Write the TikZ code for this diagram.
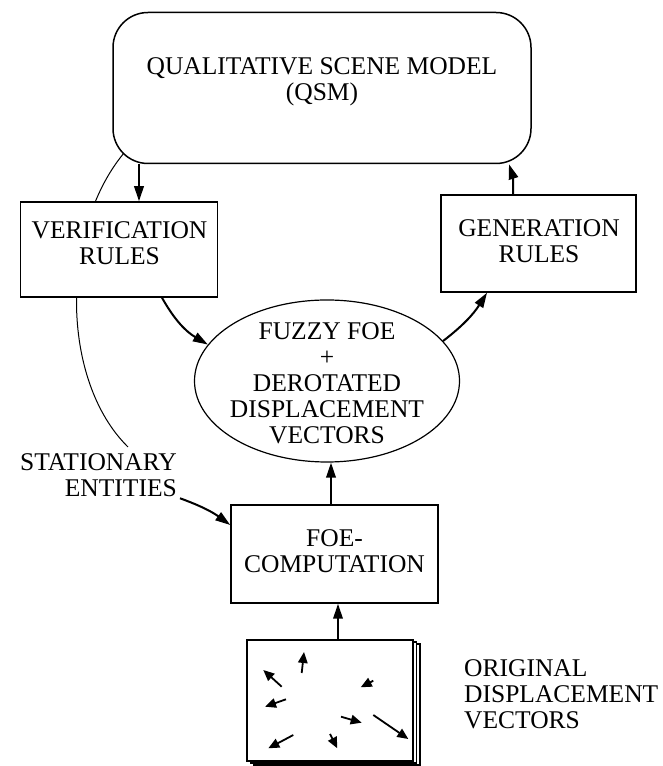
\documentclass[tikz,border=0pt]{standalone}
\usepackage{fontspec}
\setmainfont{Liberation Serif}
\usetikzlibrary{arrows.meta,shapes.geometric,calc}
\begin{document}
\begin{tikzpicture}[x=1pt,y=1pt,
  lbl/.style={inner sep=0pt, align=center, font=\fontsize{25.5}{26}\selectfont},
  box/.style={draw, line width=1.5pt, fill=white, rectangle, inner sep=0pt},
  sheetbox/.style={draw, line width=1.1pt, fill=white, rectangle, inner sep=0pt,
    minimum width=166pt, minimum height=121pt},
  flow/.style={line width=2pt, -{Triangle[length=15pt,width=9.5pt]}},
  vec/.style={line width=1.8pt, -{Triangle[length=11pt,width=9.5pt]}},
  thinline/.style={line width=1pt}]
\useasboundingbox (0,0) rectangle (663,766);

% feedback line from the scene model down to the stationary entities
\coordinate (qsmfoot) at (124,613);
\coordinate (stattop) at (128,319);
\draw[thinline] (qsmfoot) .. controls (60,536) and (60,386) .. (stattop);

% scene model
\node[box, rounded corners=35pt, minimum width=418pt, minimum height=151pt] (qsm) at (322,678) {};
\node[lbl] (qsmlbl) at (322,684) {QUALITATIVE SCENE MODEL\\(QSM)};

% rule boxes
\node[box, minimum width=197pt, minimum height=95pt] (ver) at (119,516.5) {};
\node[lbl] (verlbl) at (119.5,522.5) {VERIFICATION\\RULES};
\node[box, minimum width=195pt, minimum height=97pt] (gen) at (538.5,522.5) {};
\node[lbl] (genlbl) at (539,525) {GENERATION\\RULES};

% fuzzy FOE ellipse
\node[draw, ellipse, line width=1.2pt, fill=white, inner sep=0pt,
      minimum width=265pt, minimum height=162pt] (ell) at (327,385) {};
\node[lbl] (elllbl) at (327,382.5) {FUZZY FOE\\+\\DEROTATED\\DISPLACEMENT\\VECTORS};

% FOE computation
\node[box, minimum width=207pt, minimum height=98pt] (foe) at (334.5,212) {};
\node[lbl] (foelbl) at (334.5,214.5) {FOE-\\COMPUTATION};

% side labels
\node[lbl, align=right, anchor=east] (stat) at (177,291) {STATIONARY\\ENTITIES};
\node[lbl, align=left, anchor=west] (orig) at (464,72) {ORIGINAL\\DISPLACEMENT\\VECTORS};

% stack of displacement images
\node[sheetbox] (sheet3) at (337,61.5) {};
\node[sheetbox] (sheet2) at (333.5,63.5) {};
\node[sheetbox] (sheet) at (330,65.5) {};

% displacement vectors on the front sheet
\draw[vec] (301.7,93) -- (304,114);
\draw[vec] (281.7,79.3) -- (263.3,96);
\draw[vec] (373.3,85.3) -- (360.7,78.7);
\draw[vec] (286,66.7) -- (265,59.3);
\draw[vec] (341,49.3) -- (361.7,43.3);
\draw[vec] (373.3,51) -- (408.3,27);
\draw[vec] (293.3,31) -- (268.3,17.7);
\draw[vec] (330,32) -- (337.3,17.7);

% connectors
\draw[flow] ([xshift=20pt]ver.north |- qsm.south) -- ([xshift=20pt]ver.north);
\draw[flow] ([xshift=-25.5pt]gen.north) to[bend right=10] ([xshift=187pt]qsm.south);
\draw[flow] ([xshift=43pt]ver.south) to[bend right=15] (ell.163);
\draw[flow] (ell.19) to[bend right=10] ([xshift=-51.5pt]gen.south);
\draw[flow] ([xshift=-3.5pt]foe.north) -- ([xshift=4pt]ell.south);
\draw[flow] ([xshift=8pt]sheet.north) -- ([xshift=3.5pt]foe.south);
\draw[flow] ([xshift=3pt,yshift=-1.5pt]stat.south east) to[bend left=8] ([yshift=29pt]foe.west);
\end{tikzpicture}
\end{document}
